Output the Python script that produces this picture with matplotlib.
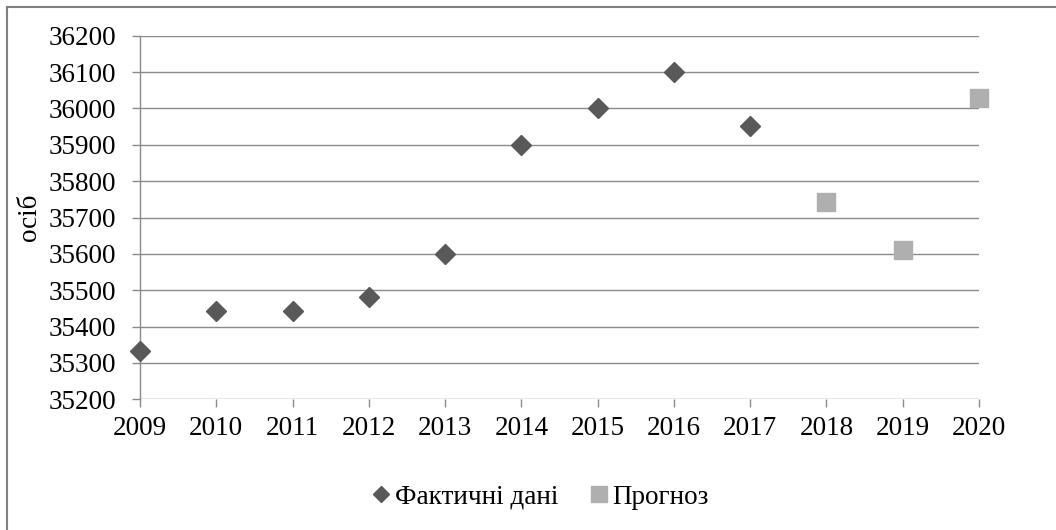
import matplotlib
matplotlib.use('Agg')
import matplotlib.pyplot as plt
from matplotlib.lines import Line2D

plt.rcParams['font.family'] = ['Liberation Serif', 'DejaVu Serif']

# Population (persons), actual values and forecast.
years_actual = [2009, 2010, 2011, 2012, 2013, 2014, 2015, 2016, 2017]
pop_actual = [35333, 35443, 35443, 35480, 35600, 35900, 36000, 36100, 35952]
years_forecast = [2018, 2019, 2020]
pop_forecast = [35742, 35611, 36028]

year_ticks = list(range(2009, 2021))
y_ticks = list(range(35200, 36201, 100))

ACTUAL_COLOR = '#595959'
FORECAST_COLOR = '#afafaf'
GRID_COLOR = '#8a8a8a'
TEXT_COLOR = '#000000'
FS = 19.5

fig = plt.figure(figsize=(10.56, 5.30), dpi=100)
ax = fig.add_axes([140 / 1056, 1 - 399.3 / 530, (979 - 140) / 1056, (399.3 - 35.7) / 530])

ax.plot(years_actual, pop_actual, linestyle='none', marker='D', ms=9.8,
        color=ACTUAL_COLOR, mec=ACTUAL_COLOR, zorder=3, clip_on=False)
ax.plot(years_forecast, pop_forecast, linestyle='none', marker='s', ms=13.3,
        color=FORECAST_COLOR, mec=FORECAST_COLOR, zorder=3, clip_on=False)

ax.set_xlim(2009, 2020)
ax.set_ylim(35200, 36200)
ax.set_xticks(year_ticks)
ax.set_yticks(y_ticks)
ax.set_xticklabels([str(y) for y in year_ticks])
ax.set_yticklabels([str(v) for v in y_ticks])

ax.grid(axis='y', color=GRID_COLOR, linewidth=1.0)
ax.set_axisbelow(True)
for side in ['top', 'right', 'bottom']:
    ax.spines[side].set_visible(False)
ax.spines['left'].set_color(GRID_COLOR)
ax.spines['left'].set_linewidth(1.0)

ax.tick_params(axis='y', length=6, width=1.0, color=GRID_COLOR, pad=11,
               labelsize=FS, labelcolor=TEXT_COLOR)
ax.tick_params(axis='x', length=6, width=1.0, color=GRID_COLOR, pad=6,
               labelsize=FS, labelcolor=TEXT_COLOR)

fig.text(29.5 / 1056, 1 - 217.5 / 530, 'осіб', rotation=90, ha='center',
         va='center', fontsize=FS, color=TEXT_COLOR)

handles = [
    Line2D([], [], linestyle='none', marker='D', ms=8, color=ACTUAL_COLOR),
    Line2D([], [], linestyle='none', marker='s', ms=11.5, color=FORECAST_COLOR),
]
fig.legend(handles, ['Фактичні дані', 'Прогноз'], loc='center', ncol=2,
           bbox_to_anchor=(541 / 1056, 1 - 497 / 530), frameon=False,
           fontsize=FS, handlelength=0.6, handletextpad=0.2,
           columnspacing=1.2, labelcolor=TEXT_COLOR)

# outer chart frame: only the left and top edges fall inside the picture
fig.add_artist(Line2D([7 / 1056, 7 / 1056], [0, 1 - 7 / 530],
                      transform=fig.transFigure, color='#808080', linewidth=1.5))
fig.add_artist(Line2D([7 / 1056, 1], [1 - 7 / 530, 1 - 7 / 530],
                      transform=fig.transFigure, color='#808080', linewidth=1.5))

fig.savefig('out.png', dpi=100)
